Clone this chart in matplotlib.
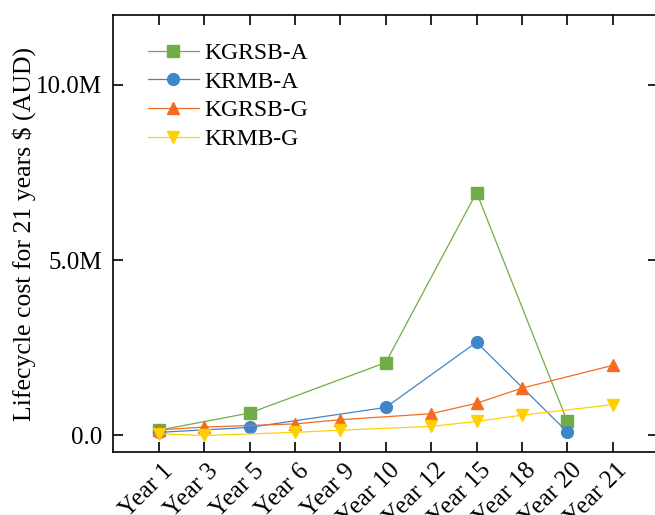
import numpy as np
import matplotlib
matplotlib.use('Agg')
import matplotlib.pyplot as plt
import matplotlib.transforms as mtransforms
from matplotlib.ticker import FuncFormatter

plt.rcParams['font.family'] = ['Liberation Serif', 'DejaVu Serif']

# categories on x axis
years = ['Year 1', 'Year 3', 'Year 5', 'Year 6', 'Year 9', 'Year 10',
         'Year 12', 'Year 15', 'Year 18', 'Year 20', 'Year 21']

# series (values in million AUD), each only at its own years
a_years = ['Year 1', 'Year 5', 'Year 10', 'Year 15', 'Year 20']
kgrsb_a = [0.15, 0.64, 2.08, 6.93, 0.40]
krmb_a = [0.09, 0.23, 0.80, 2.66, 0.10]

g_years = ['Year 1', 'Year 3', 'Year 6', 'Year 9', 'Year 12', 'Year 15', 'Year 18', 'Year 21']
kgrsb_g = [0.16, 0.24, 0.33, 0.45, 0.62, 0.92, 1.35, 2.00]
krmb_g = [0.05, 0.00, 0.09, 0.15, 0.26, 0.40, 0.58, 0.88]

xa = [years.index(y) for y in a_years]
xg = [years.index(y) for y in g_years]

fig = plt.figure(figsize=(6.55, 5.15), dpi=100)
ax = fig.add_axes([0.173, 0.1217, 0.8318, 0.8497])

ax.plot(xa, kgrsb_a, '-s', color='#70AD47', lw=0.9, ms=8, label='KGRSB-A')
ax.plot(xa, krmb_a, '-o', color='#3F86C9', lw=0.9, ms=8.5, label='KRMB-A')
ax.plot(xg, kgrsb_g, '-^', color='#F36C21', lw=0.9, ms=9, label='KGRSB-G')
ax.plot(xg, krmb_g, '-v', color='#FFD000', lw=0.9, ms=9, label='KRMB-G')

ax.set_xlim(-1, 11)
ax.set_ylim(-0.48, 12)
ax.set_xticks(range(len(years)))
ax.set_xticklabels(years, rotation=45, ha='right', va='center', rotation_mode='anchor')
ax.set_yticks([0, 5, 10])
ax.yaxis.set_major_formatter(FuncFormatter(lambda v, p: '%.1fM' % v if v else '0.0'))
ax.tick_params(direction='in', length=7, width=1.2, labelsize=18, top=True, right=True, pad=8)
for s in ax.spines.values():
    s.set_linewidth(1.2)

# shift the rotated labels a little to the right / down like the original
# (done after tick_params, which resets the label transforms)
off = mtransforms.ScaledTranslation(11 / 100, -4 / 100, fig.dpi_scale_trans)
for t in ax.xaxis.get_major_ticks():
    t.label1.set_transform(t.label1.get_transform() + off)

ax.set_ylabel('Lifecycle cost for 21 years \\$ (AUD)', fontsize=18.5, labelpad=0)
ax.legend(loc='upper left', frameon=False, fontsize=17, handlelength=2.15, handletextpad=0.25,
          bbox_to_anchor=(0.0245, 0.985), labelspacing=0.3)

plt.savefig('out.png', dpi=100)
